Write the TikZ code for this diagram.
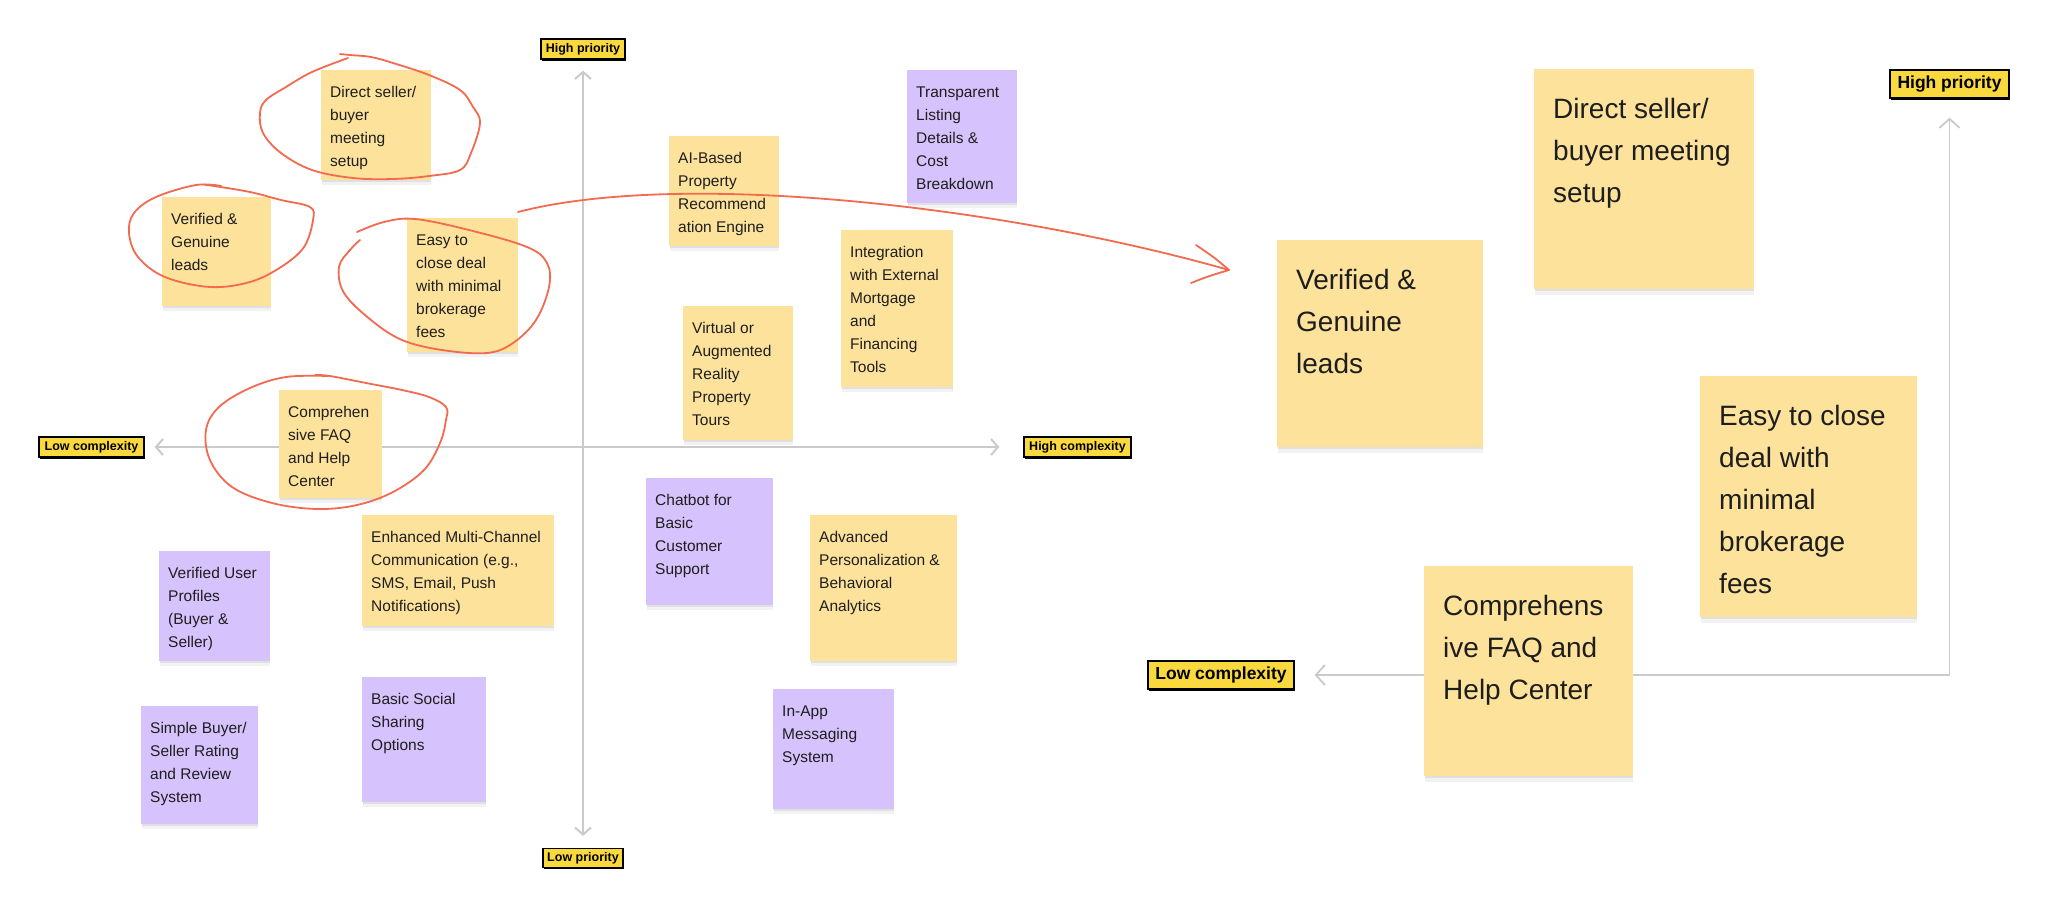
\documentclass[tikz,border=0pt]{standalone}
\usepackage{fontspec}
\setmainfont{Liberation Sans}
\usetikzlibrary{arrows.meta,calc}
\definecolor{noteY}{HTML}{FDE29C}
\definecolor{noteP}{HTML}{D6C2FC}
\definecolor{lblY}{HTML}{FAD93F}
\definecolor{axisG}{HTML}{CACACA}
\definecolor{redInk}{HTML}{F26A4F}
\definecolor{ink}{HTML}{1E1E1E}
\tikzset{
  notebox/.style={anchor=north west, inner sep=0pt, outer sep=0pt, draw=none},
  smalltxt/.style={anchor=north west, inner sep=0pt, align=left, text=ink, font=\fontsize{15.5}{23}\selectfont},
  bigtxt/.style={anchor=north west, inner sep=0pt, align=left, text=ink, font=\fontsize{28}{42}\selectfont},
  lbl/.style={fill=lblY, draw=black, line width=1.3pt, inner sep=0pt, text=black,
     preaction={fill=black, transform canvas={shift={(1.2pt,-1.6pt)}}}},
  lblsmall/.style={lbl, font=\bfseries\fontsize{12.5}{14}\selectfont},
  lblbig/.style={lbl, font=\bfseries\fontsize{17.5}{20}\selectfont},
  axis/.style={draw=axisG, line width=2pt},
  redpen/.style={draw=redInk, line width=1.8pt, line cap=round, line join=round},
}
% sticky: name, colour, x1, y1, x2, y2, text
\newcommand\stickyS[7]{%
  \fill[black!12] (#3+1,#6) rectangle (#5,#6+2);
  \fill[black!5] (#3+1,#6+2) rectangle (#5,#6+5);
  \node[notebox, fill=#2, minimum width={#5-#3}, minimum height={#6-#4}] (#1) at (#3,#4) {};
  \node[smalltxt] (#1t) at ($(#1.north west)+(9,16.5)$) {#7};
}
\newcommand\stickyB[7]{%
  \fill[black!12] (#3+1,#6) rectangle (#5,#6+2);
  \fill[black!5] (#3+1,#6+2) rectangle (#5,#6+6);
  \node[notebox, fill=#2, minimum width={#5-#3}, minimum height={#6-#4}] (#1) at (#3,#4) {};
  \node[bigtxt] (#1t) at ($(#1.north west)+(19,29)$) {#7};
}
\begin{document}
\begin{tikzpicture}[x=1pt,y=-1pt]
\useasboundingbox[fill=white] (0,0) rectangle (2048,908);

% ---------- left chart labels ----------
\node[lblsmall, minimum width=84, minimum height=20] (hpL) at (583,49) {High priority};
\node[lblsmall, minimum width=80, minimum height=19] (lpL) at (583,858) {Low priority};
\node[lblsmall, minimum width=105, minimum height=20] (lcL) at (91.5,447) {Low complexity};
\node[lblsmall, minimum width=107, minimum height=20] (hcL) at (1077.5,447) {High complexity};

\draw[axis, {Straight Barb[length=7pt,width=16pt]}-{Straight Barb[length=7pt,width=16pt]}, shorten <=11pt, shorten >=12pt] (hpL.south) -- (lpL.north);
\draw[axis, {Straight Barb[length=7pt,width=16pt]}-{Straight Barb[length=7pt,width=16pt]}, shorten <=10pt, shorten >=24pt] (lcL.east) -- (hcL.west);

% ---------- left chart notes ----------
\stickyS{n1}{noteY}{321}{70}{431}{180}{Direct seller/\\buyer\\meeting\\setup}
\stickyS{n2}{noteY}{162}{197}{271}{306}{Verified \&\\Genuine\\leads}
\stickyS{n3}{noteY}{407}{218}{518}{352}{Easy to\\close deal\\with minimal\\brokerage\\fees}
\stickyS{n4}{noteY}{279}{390}{382}{498}{Comprehen\\sive FAQ\\and Help\\Center}
\stickyS{n5}{noteY}{669}{136}{779}{246}{AI-Based\\Property\\Recommend\\ation Engine}
\stickyS{n6}{noteP}{907}{70}{1017}{203}{Transparent\\Listing\\Details \&\\Cost\\Breakdown}
\stickyS{n7}{noteY}{841}{230}{953}{387}{Integration\\with External\\Mortgage\\and\\Financing\\Tools}
\stickyS{n8}{noteY}{683}{306}{793}{440}{Virtual or\\Augmented\\Reality\\Property\\Tours}
\stickyS{n9}{noteY}{362}{515}{554}{626}{Enhanced Multi-Channel\\Communication (e.g.,\\SMS, Email, Push\\Notifications)}
\stickyS{n10}{noteP}{159}{551}{270}{661}{Verified User\\Profiles\\(Buyer \&\\Seller)}
\stickyS{n11}{noteP}{141}{706}{258}{824}{Simple Buyer/\\Seller Rating\\and Review\\System}
\stickyS{n12}{noteP}{362}{677}{486}{802}{Basic Social\\Sharing\\Options}
\stickyS{n13}{noteP}{646}{478}{773}{605}{Chatbot for\\Basic\\Customer\\Support}
\stickyS{n14}{noteY}{810}{515}{957}{661}{Advanced\\Personalization \&\\Behavioral\\Analytics}
\stickyS{n15}{noteP}{773}{689}{894}{809}{In-App\\Messaging\\System}

% ---------- right chart ----------
\node[lblbig, minimum width=119, minimum height=28] (hpR) at (1949.5,84) {High priority};
\node[lblbig, minimum width=146, minimum height=28] (lcR) at (1221,675) {Low complexity};
\draw[axis, line width=1.8pt, {Straight Barb[length=9pt,width=20pt]}-{Straight Barb[length=9pt,width=20pt]}, shorten <=20pt, shorten >=19pt] (lcR.east) -| (hpR.south);

\stickyB{b1}{noteY}{1277}{240}{1483}{447}{Verified \&\\Genuine\\leads}
\stickyB{b2}{noteY}{1534}{69}{1754}{289}{Direct seller/\\buyer meeting\\setup}
\stickyB{b3}{noteY}{1700}{376}{1917}{617}{Easy to close\\deal with\\minimal\\brokerage\\fees}
\stickyB{b4}{noteY}{1424}{566}{1633}{776}{Comprehens\\ive FAQ and\\Help Center}

% ---------- red annotations ----------
\draw[redpen] plot[smooth, tension=0.6] coordinates {(348,58) (312,72) (286,87) (266,100) (260,113) (263,133) (281,153) (312,170) (353,178) (393,179) (429,176) (460,170) (471,153) (480,123) (473,107) (460,90) (429,75) (393,63) (371,57) (350,55) (340,54)};
\draw[redpen] plot[smooth, tension=0.6] coordinates {(221,186) (196,185) (156,197) (134,213) (129,233) (138,257) (165,277) (210,287) (250,282) (281,267) (304,247) (313,220) (310,207) (281,200) (250,192) (214,186) (205,185)};
\draw[redpen] plot[smooth, tension=0.6] coordinates {(357,232) (384,222) (415,219) (469,230) (527,247) (547,263) (549,287) (536,320) (513,343) (487,353) (442,350) (402,340) (371,320) (344,293) (339,267) (350,250) (360,240)};
\draw[redpen] plot[smooth, tension=0.6] coordinates {(328,376) (286,377) (250,388) (219,407) (206,430) (210,460) (232,487) (272,503) (317,509) (357,505) (393,492) (424,470) (440,443) (446,420) (446,407) (429,397) (402,390) (366,383) (330,376) (315,375)};

\coordinate (tip) at (1229,270);
\draw[redpen] ($(n3.north east)+(0,-6)$) .. controls (680,170) and (1000,205) .. (tip);
\draw[redpen] ($(tip)+(-33,-25)$) .. controls ($(tip)+(-14,-12)$) .. (tip) .. controls ($(tip)+(-20,6)$) .. ($(tip)+(-38,13)$);
\end{tikzpicture}
\end{document}
